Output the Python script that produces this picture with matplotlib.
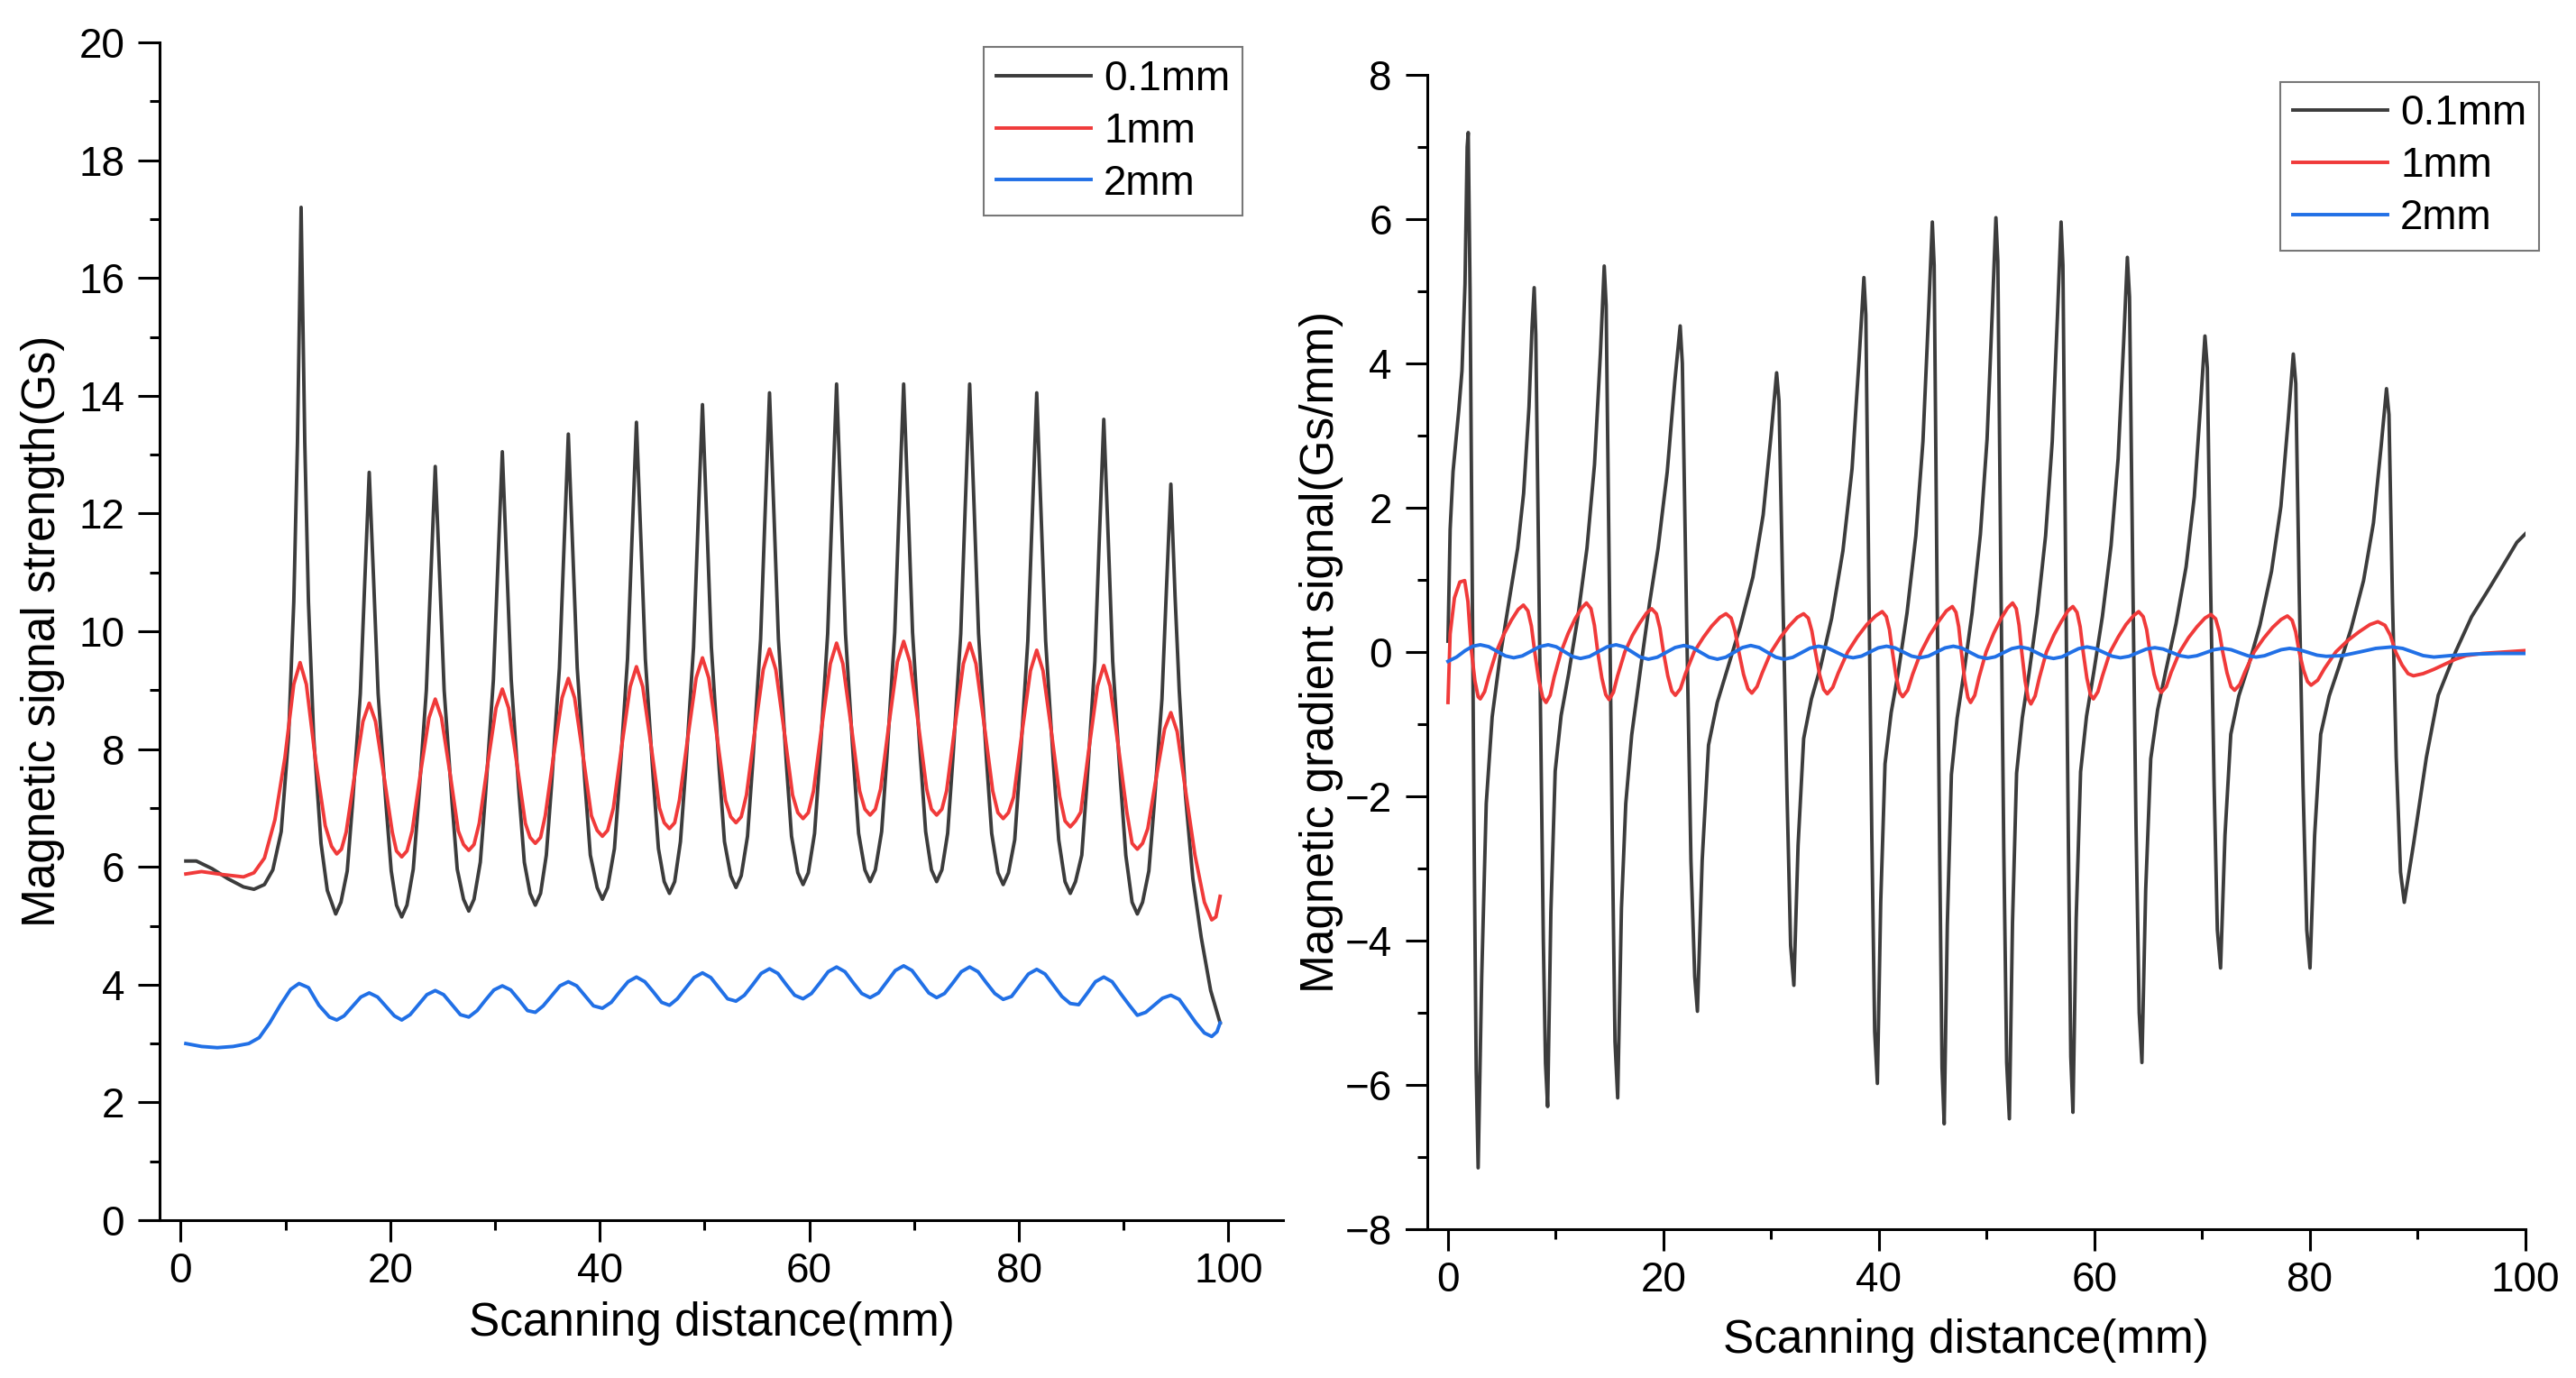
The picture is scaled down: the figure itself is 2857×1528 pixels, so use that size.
import matplotlib.pyplot as plt
from matplotlib.ticker import MultipleLocator

plt.rcParams['font.family'] = ['Liberation Sans', 'DejaVu Sans']

legend_labels = ['0.1mm', '1mm', '2mm']
line_colors = ['#3c3c3c', '#f03a3a', '#2170e6']

# left panel: magnetic signal strength (Gs)
strength_01mm = [
    (0.5, 6.1), (1.5, 6.1), (3.0, 5.97), (4.5, 5.8), (6.0, 5.66), (7.0, 5.62), (8.0, 5.7), (8.8, 5.95),
    (9.6, 6.6), (10.3, 8.2), (10.8, 10.5), (11.15, 13.2), (11.5, 17.2), (11.85, 13.2), (12.2, 10.5),
    (12.7, 8.2), (13.4, 6.4), (14.0, 5.6), (14.8, 5.2), (15.3, 5.4),
    (15.9, 5.93), (16.4, 7.06), (17.15, 8.94), (17.57, 10.82), (18.0, 12.7), (18.43, 10.82), (18.85, 8.94),
    (19.6, 7.06), (20.1, 5.93), (20.6, 5.35), (21.1, 5.15), (21.6, 5.35),
    (22.2, 5.96), (22.7, 7.1), (23.45, 9.0), (23.87, 10.9), (24.3, 12.8), (24.73, 10.9), (25.15, 9.0),
    (25.9, 7.1), (26.4, 5.96), (27.0, 5.45), (27.5, 5.25), (28.0, 5.45),
    (28.6, 6.08), (29.1, 7.24), (29.85, 9.18), (30.27, 11.11), (30.7, 13.05), (31.13, 11.11), (31.55, 9.18),
    (32.3, 7.24), (32.8, 6.08), (33.35, 5.55), (33.85, 5.35), (34.35, 5.55),
    (34.9, 6.2), (35.4, 7.39), (36.15, 9.38), (36.57, 11.36), (37.0, 13.35), (37.43, 11.36), (37.85, 9.38),
    (38.6, 7.39), (39.1, 6.2), (39.75, 5.65), (40.25, 5.45), (40.75, 5.65),
    (41.4, 6.31), (41.9, 7.51), (42.65, 9.53), (43.07, 11.54), (43.5, 13.55), (43.93, 11.54), (44.35, 9.53),
    (45.1, 7.51), (45.6, 6.31), (46.15, 5.75), (46.65, 5.55), (47.15, 5.75),
    (47.7, 6.43), (48.2, 7.66), (48.95, 9.73), (49.37, 11.79), (49.8, 13.85), (50.23, 11.79), (50.65, 9.73),
    (51.4, 7.66), (51.9, 6.43), (52.5, 5.85), (53.0, 5.65), (53.5, 5.85),
    (54.1, 6.52), (54.6, 7.77), (55.35, 9.87), (55.77, 11.96), (56.2, 14.05), (56.63, 11.96), (57.05, 9.87),
    (57.8, 7.77), (58.3, 6.52), (58.9, 5.9), (59.4, 5.7), (59.9, 5.9),
    (60.5, 6.57), (61.0, 7.84), (61.75, 9.96), (62.17, 12.08), (62.6, 14.2), (63.03, 12.08), (63.45, 9.96),
    (64.2, 7.84), (64.7, 6.57), (65.3, 5.95), (65.8, 5.75), (66.3, 5.95),
    (66.9, 6.6), (67.4, 7.86), (68.15, 9.98), (68.57, 12.09), (69.0, 14.2), (69.43, 12.09), (69.85, 9.98),
    (70.6, 7.86), (71.1, 6.6), (71.65, 5.95), (72.15, 5.75), (72.65, 5.95),
    (73.2, 6.57), (73.7, 7.84), (74.45, 9.96), (74.87, 12.08), (75.3, 14.2), (75.73, 12.08), (76.15, 9.96),
    (76.9, 7.84), (77.4, 6.57), (78.0, 5.9), (78.5, 5.7), (79.0, 5.9),
    (79.6, 6.46), (80.1, 7.73), (80.85, 9.84), (81.27, 11.94), (81.7, 14.05), (82.13, 11.94), (82.55, 9.84),
    (83.3, 7.73), (83.8, 6.46), (84.4, 5.75), (84.9, 5.55), (85.4, 5.75),
    (86.0, 6.2), (86.5, 7.44), (87.25, 9.49), (87.67, 11.55), (88.1, 13.6), (88.53, 11.55), (88.95, 9.49),
    (89.7, 7.44), (90.2, 6.2), (90.8, 5.4), (91.3, 5.2), (91.8, 5.4),
    (92.4, 5.93), (92.9, 7.03), (93.65, 8.85), (94.07, 10.68), (94.5, 12.5), (94.9, 10.6), (95.3, 9.0),
    (95.9, 7.2), (96.6, 5.8), (97.4, 4.8), (98.3, 3.9), (99.2, 3.35),
]

strength_1mm = [
    (0.5, 5.88), (2.0, 5.92), (4.0, 5.87), (6.0, 5.83), (7.0, 5.9), (8.0, 6.15), (9.0, 6.8), (9.95, 7.85),
    (10.8, 9.1), (11.4, 9.47), (12.0, 9.1), (12.85, 7.85), (13.8, 6.7), (14.4, 6.35), (14.9, 6.22), (15.35, 6.3),
    (15.8, 6.59), (16.55, 7.49), (17.4, 8.47), (18.0, 8.78), (18.6, 8.47), (19.45, 7.49), (20.2, 6.59),
    (20.6, 6.27), (21.1, 6.17), (21.6, 6.27),
    (22.1, 6.61), (22.85, 7.54), (23.7, 8.53), (24.3, 8.85), (24.9, 8.53), (25.75, 7.54), (26.5, 6.61),
    (27.0, 6.38), (27.5, 6.28), (28.0, 6.38),
    (28.5, 6.74), (29.25, 7.68), (30.1, 8.7), (30.7, 9.02), (31.3, 8.7), (32.15, 7.68), (32.9, 6.74),
    (33.35, 6.5), (33.85, 6.4), (34.35, 6.5),
    (34.8, 6.87), (35.55, 7.83), (36.4, 8.87), (37.0, 9.2), (37.6, 8.87), (38.45, 7.83), (39.2, 6.87),
    (39.75, 6.62), (40.25, 6.52), (40.75, 6.62),
    (41.3, 7.0), (42.05, 7.99), (42.9, 9.06), (43.5, 9.4), (44.1, 9.06), (44.95, 7.99), (45.7, 7.0),
    (46.15, 6.75), (46.65, 6.65), (47.15, 6.75),
    (47.6, 7.13), (48.35, 8.13), (49.2, 9.21), (49.8, 9.55), (50.4, 9.21), (51.25, 8.13), (52.0, 7.13),
    (52.5, 6.85), (53.0, 6.75), (53.5, 6.85),
    (54.0, 7.22), (54.75, 8.24), (55.6, 9.35), (56.2, 9.7), (56.8, 9.35), (57.65, 8.24), (58.4, 7.22),
    (58.9, 6.92), (59.4, 6.82), (59.9, 6.92),
    (60.4, 7.29), (61.15, 8.33), (62.0, 9.45), (62.6, 9.8), (63.2, 9.45), (64.05, 8.33), (64.8, 7.29),
    (65.3, 6.98), (65.8, 6.88), (66.3, 6.98),
    (66.8, 7.32), (67.55, 8.36), (68.4, 9.48), (69.0, 9.83), (69.6, 9.48), (70.45, 8.36), (71.2, 7.32),
    (71.65, 6.98), (72.15, 6.88), (72.65, 6.98),
    (73.1, 7.29), (73.85, 8.33), (74.7, 9.45), (75.3, 9.8), (75.9, 9.45), (76.75, 8.33), (77.5, 7.29),
    (78.0, 6.92), (78.5, 6.82), (79.0, 6.92),
    (79.5, 7.19), (80.25, 8.22), (81.1, 9.33), (81.7, 9.68), (82.3, 9.33), (83.15, 8.22), (83.9, 7.19),
    (84.4, 6.78), (84.9, 6.68), (85.4, 6.78),
    (85.9, 6.93), (86.65, 7.96), (87.5, 9.07), (88.1, 9.42), (88.7, 9.07), (89.55, 7.96), (90.3, 6.93),
    (90.8, 6.4), (91.3, 6.3), (91.8, 6.4),
    (92.3, 6.65), (93.05, 7.46), (93.9, 8.34), (94.5, 8.62), (95.1, 8.3), (95.9, 7.3), (96.8, 6.2),
    (97.7, 5.4), (98.4, 5.1), (98.8, 5.15), (99.2, 5.5),
]

strength_2mm = [
    (0.5, 3.0), (2.0, 2.95), (3.5, 2.93), (5.0, 2.95), (6.5, 3.0), (7.5, 3.1), (8.5, 3.35), (9.5, 3.65),
    (10.5, 3.92), (11.3, 4.02), (12.2, 3.95), (13.2, 3.65), (14.2, 3.45), (14.9, 3.4),
    (15.6, 3.47), (16.4, 3.63), (17.2, 3.79), (18.0, 3.86), (18.8, 3.79), (19.6, 3.63), (20.4, 3.47), (21.1, 3.4),
    (21.9, 3.49), (22.7, 3.66), (23.5, 3.83), (24.3, 3.9), (25.1, 3.83), (25.9, 3.66), (26.7, 3.49), (27.5, 3.45),
    (28.3, 3.56), (29.1, 3.74), (29.9, 3.91), (30.7, 3.98), (31.5, 3.91), (32.3, 3.74), (33.1, 3.56), (33.85, 3.53),
    (34.6, 3.64), (35.4, 3.81), (36.2, 3.98), (37.0, 4.05), (37.8, 3.98), (38.6, 3.81), (39.4, 3.64), (40.25, 3.6),
    (41.1, 3.7), (41.9, 3.88), (42.7, 4.05), (43.5, 4.13), (44.3, 4.05), (45.1, 3.88), (45.9, 3.7), (46.65, 3.65),
    (47.4, 3.76), (48.2, 3.94), (49.0, 4.12), (49.8, 4.2), (50.6, 4.12), (51.4, 3.94), (52.2, 3.76), (53.0, 3.72),
    (53.8, 3.82), (54.6, 4.0), (55.4, 4.19), (56.2, 4.27), (57.0, 4.19), (57.8, 4.0), (58.6, 3.82), (59.4, 3.76),
    (60.2, 3.85), (61.0, 4.03), (61.8, 4.22), (62.6, 4.3), (63.4, 4.22), (64.2, 4.03), (65.0, 3.85), (65.8, 3.78),
    (66.6, 3.86), (67.4, 4.05), (68.2, 4.24), (69.0, 4.32), (69.8, 4.24), (70.6, 4.05), (71.4, 3.86), (72.15, 3.78),
    (72.9, 3.85), (73.7, 4.03), (74.5, 4.22), (75.3, 4.3), (76.1, 4.22), (76.9, 4.03), (77.7, 3.85), (78.5, 3.75),
    (79.3, 3.8), (80.1, 3.99), (80.9, 4.18), (81.7, 4.26), (82.5, 4.18), (83.3, 3.99), (84.1, 3.8), (84.9, 3.68),
    (85.7, 3.66), (86.5, 3.85), (87.3, 4.05), (88.1, 4.13), (88.9, 4.05), (89.7, 3.85), (90.5, 3.66), (91.3, 3.48),
    (92.1, 3.53), (92.9, 3.65), (93.7, 3.77), (94.5, 3.82), (95.3, 3.75), (96.1, 3.55), (96.9, 3.35),
    (97.7, 3.18), (98.4, 3.12), (98.9, 3.2), (99.2, 3.35),
]

# right panel: magnetic gradient signal (Gs/mm)
gradient_01mm = [
    (0.0, 0.15), (0.2, 1.7), (0.47, 2.5), (1.0, 3.35), (1.3, 3.9), (1.58, 5.1), (1.78, 7.0), (1.88, 7.2),
    (2.05, 5.0), (2.25, 1.0), (2.45, -3.0), (2.62, -5.8), (2.8, -7.15),
    (3.13, -4.5), (3.55, -2.1), (4.1, -0.9), (4.8, -0.1), (5.63, 0.67), (6.47, 1.44), (7.02, 2.2), (7.52, 3.4),
    (7.8, 4.5), (8.0, 5.05), (8.15, 4.4), (8.35, 2.0), (8.6, -1.0), (8.85, -4.0), (9.05, -5.7), (9.25, -6.3),
    (9.55, -3.6), (9.95, -1.65), (10.5, -0.88), (11.2, -0.3), (12.05, 0.48), (12.9, 1.44), (13.6, 2.6),
    (14.15, 4.15), (14.5, 5.35), (14.68, 4.8), (14.95, 1.25), (15.25, -2.6), (15.5, -5.4), (15.75, -6.18),
    (16.1, -3.55), (16.5, -2.1), (17.05, -1.15), (17.9, -0.2), (18.7, 0.67), (19.5, 1.44), (20.35, 2.5),
    (21.05, 3.75), (21.55, 4.52), (21.75, 4.0), (22.15, 0.4), (22.55, -2.9), (22.9, -4.5), (23.15, -4.98),
    (23.59, -2.89), (24.18, -1.29), (24.99, -0.7), (25.94, -0.23), (27.12, 0.35), (28.3, 1.04), (29.25, 1.9),
    (29.99, 3.02), (30.5, 3.87), (30.72, 3.48), (31.08, 0.77), (31.46, -1.94), (31.8, -4.07), (32.1, -4.62),
    (32.49, -2.68), (33.01, -1.2), (33.73, -0.65), (34.57, -0.21), (35.61, 0.47), (36.65, 1.4), (37.5, 2.54),
    (38.15, 4.05), (38.6, 5.19), (38.78, 4.67), (39.05, 1.04), (39.33, -2.51), (39.6, -5.26), (39.85, -5.98),
    (40.16, -3.47), (40.56, -1.55), (41.13, -0.84), (41.79, -0.28), (42.6, 0.54), (43.42, 1.61), (44.08, 2.92),
    (44.59, 4.65), (44.95, 5.96), (45.12, 5.36), (45.37, 1.19), (45.63, -2.75), (45.85, -5.76), (46.05, -6.54),
    (46.34, -3.79), (46.72, -1.7), (47.25, -0.92), (47.87, -0.3), (48.64, 0.54), (49.41, 1.63), (50.03, 2.95),
    (50.51, 4.7), (50.85, 6.02), (51.03, 5.42), (51.3, 1.2), (51.58, -2.72), (51.85, -5.69), (52.1, -6.47),
    (52.39, -3.75), (52.77, -1.68), (53.3, -0.91), (53.92, -0.3), (54.69, 0.54), (55.46, 1.61), (56.08, 2.92),
    (56.56, 4.65), (56.9, 5.96), (57.07, 5.36), (57.32, 1.19), (57.58, -2.68), (57.8, -5.61), (58.0, -6.38),
    (58.3, -3.7), (58.71, -1.66), (59.26, -0.89), (59.92, -0.29), (60.73, 0.49), (61.54, 1.48), (62.19, 2.68),
    (62.7, 4.27), (63.05, 5.47), (63.25, 4.92), (63.55, 1.09), (63.85, -2.39), (64.15, -5.0), (64.4, -5.69),
    (64.75, -3.3), (65.22, -1.48), (65.86, -0.8), (66.62, -0.26), (67.56, 0.39), (68.5, 1.18), (69.26, 2.15),
    (69.84, 3.42), (70.25, 4.38), (70.47, 3.94), (70.78, 0.88), (71.1, -1.84), (71.4, -3.85), (71.7, -4.38),
    (72.11, -2.54), (72.65, -1.14), (73.39, -0.61), (74.27, -0.2), (75.35, 0.37), (76.43, 1.12), (77.3, 2.02),
    (77.98, 3.22), (78.45, 4.13), (78.68, 3.72), (79.0, 0.83), (79.35, -1.84), (79.7, -3.85), (80.0, -4.38),
    (80.43, -2.54), (80.99, -1.14), (81.78, -0.61), (82.7, -0.2), (83.83, 0.33), (84.97, 0.99), (85.89, 1.79),
    (86.6, 2.85), (87.1, 3.65), (87.33, 3.29), (87.65, 0.73), (88.0, -1.46), (88.4, -3.05), (88.75, -3.47),
    (89.6, -2.67), (90.8, -1.46), (91.9, -0.6), (93.5, 0.0), (95.0, 0.49), (96.5, 0.85), (98.0, 1.22),
    (99.2, 1.52), (100.0, 1.64),
]

gradient_1mm = [
    (0.0, -0.7), (0.2, 0.25), (0.6, 0.75), (1.1, 0.97), (1.55, 0.99), (1.85, 0.7), (2.15, 0.05), (2.5, -0.4),
    (2.8, -0.62), (3.0, -0.65),
    (3.4, -0.55), (3.8, -0.33), (4.48, 0.0), (5.2, 0.25), (5.88, 0.44), (6.52, 0.59), (7.0, 0.65), (7.42, 0.57),
    (7.74, 0.36), (8.05, 0.0), (8.43, -0.39), (8.79, -0.63), (9.1, -0.7),
    (9.48, -0.6), (9.85, -0.35), (10.49, 0.0), (11.16, 0.26), (11.8, 0.46), (12.4, 0.61), (12.85, 0.68),
    (13.27, 0.6), (13.59, 0.37), (13.9, 0.0), (14.28, -0.36), (14.64, -0.59), (14.95, -0.66),
    (15.35, -0.56), (15.74, -0.33), (16.41, 0.0), (17.12, 0.23), (17.79, 0.4), (18.43, 0.54), (18.9, 0.6),
    (19.34, 0.53), (19.67, 0.33), (20.0, 0.0), (20.4, -0.33), (20.77, -0.54), (21.1, -0.6),
    (21.57, -0.51), (22.04, -0.3), (22.84, 0.0), (23.69, 0.2), (24.48, 0.36), (25.24, 0.48), (25.8, 0.53),
    (26.28, 0.47), (26.64, 0.29), (27.0, 0.0), (27.43, -0.31), (27.84, -0.51), (28.2, -0.57),
    (28.68, -0.48), (29.16, -0.29), (29.98, 0.0), (30.84, 0.2), (31.66, 0.36), (32.42, 0.48), (33.0, 0.53),
    (33.44, 0.47), (33.77, 0.29), (34.1, 0.0), (34.5, -0.32), (34.87, -0.52), (35.2, -0.58),
    (35.71, -0.49), (36.22, -0.29), (37.09, 0.0), (38.0, 0.21), (38.87, 0.38), (39.69, 0.5), (40.3, 0.56),
    (40.68, 0.49), (40.97, 0.31), (41.25, 0.0), (41.59, -0.34), (41.92, -0.56), (42.2, -0.62),
    (42.66, -0.53), (43.12, -0.31), (43.9, 0.0), (44.73, 0.24), (45.51, 0.42), (46.25, 0.57), (46.8, 0.63),
    (47.14, 0.55), (47.4, 0.35), (47.65, 0.0), (47.96, -0.39), (48.25, -0.63), (48.5, -0.7),
    (48.89, -0.6), (49.28, -0.35), (49.94, 0.0), (50.65, 0.26), (51.31, 0.46), (51.93, 0.61), (52.4, 0.68),
    (52.74, 0.6), (53.0, 0.37), (53.25, 0.0), (53.56, -0.4), (53.85, -0.65), (54.1, -0.72),
    (54.49, -0.61), (54.88, -0.36), (55.54, 0.0), (56.25, 0.24), (56.91, 0.42), (57.53, 0.57), (58.0, 0.63),
    (58.38, 0.55), (58.67, 0.35), (58.95, 0.0), (59.29, -0.36), (59.62, -0.59), (59.9, -0.65),
    (60.32, -0.55), (60.74, -0.33), (61.45, 0.0), (62.21, 0.21), (62.92, 0.38), (63.6, 0.5), (64.1, 0.56),
    (64.52, 0.49), (64.84, 0.31), (65.15, 0.0), (65.53, -0.31), (65.89, -0.5), (66.2, -0.56),
    (66.66, -0.48), (67.12, -0.28), (67.9, 0.0), (68.73, 0.2), (69.51, 0.35), (70.25, 0.47), (70.8, 0.52),
    (71.24, 0.46), (71.57, 0.29), (71.9, 0.0), (72.3, -0.29), (72.67, -0.48), (73.0, -0.53),
    (73.49, -0.45), (73.98, -0.27), (74.81, 0.0), (75.7, 0.19), (76.53, 0.34), (77.31, 0.45), (77.9, 0.5),
    (78.34, 0.44), (78.67, 0.28), (79.0, 0.0), (79.4, -0.25), (79.77, -0.41), (80.1, -0.46),
    (80.72, -0.39), (81.34, -0.23), (82.39, 0.0), (83.51, 0.16), (84.56, 0.28), (85.56, 0.38), (86.3, 0.42),
    (86.96, 0.37), (87.46, 0.23), (87.95, 0.0), (88.54, -0.18), (89.1, -0.3), (89.6, -0.33),
    (90.5, -0.3), (91.5, -0.24), (92.5, -0.17), (93.5, -0.1), (94.5, -0.05), (96.0, -0.02), (98.0, 0.0),
    (100.0, 0.02),
]

gradient_2mm = [
    (0.0, -0.13), (0.8, -0.07), (1.6, 0.02), (2.3, 0.08), (3.0, 0.1),
    (3.78, 0.074), (4.55, 0.01), (5.33, -0.054), (6.1, -0.08),
    (6.9, -0.054), (7.7, 0.01), (8.5, 0.074), (9.3, 0.1),
    (10.05, 0.072), (10.8, 0.005), (11.55, -0.062), (12.3, -0.09),
    (13.13, -0.062), (13.95, 0.005), (14.78, 0.072), (15.6, 0.1),
    (16.35, 0.071), (17.1, 0.0), (17.85, -0.071), (18.6, -0.1),
    (19.43, -0.072), (20.25, -0.005), (21.08, 0.062), (21.9, 0.09),
    (22.68, 0.062), (23.45, -0.005), (24.23, -0.072), (25.0, -0.1),
    (25.78, -0.072), (26.55, -0.005), (27.33, 0.062), (28.1, 0.09),
    (28.88, 0.062), (29.65, -0.005), (30.43, -0.072), (31.2, -0.1),
    (32.0, -0.074), (32.8, -0.01), (33.6, 0.054), (34.4, 0.08),
    (35.2, 0.057), (36.0, 0.0), (36.8, -0.057), (37.6, -0.08),
    (38.38, -0.057), (39.15, 0.0), (39.93, 0.057), (40.7, 0.08),
    (41.48, 0.057), (42.25, 0.0), (43.03, -0.057), (43.8, -0.08),
    (44.58, -0.057), (45.35, 0.0), (46.13, 0.057), (46.9, 0.08),
    (47.68, 0.055), (48.45, -0.005), (49.23, -0.065), (50.0, -0.09),
    (50.78, -0.067), (51.55, -0.01), (52.33, 0.047), (53.1, 0.07),
    (53.88, 0.047), (54.65, -0.01), (55.43, -0.067), (56.2, -0.09),
    (56.98, -0.067), (57.75, -0.01), (58.53, 0.047), (59.3, 0.07),
    (60.08, 0.048), (60.85, -0.005), (61.63, -0.058), (62.4, -0.08),
    (63.2, -0.06), (64.0, -0.01), (64.8, 0.04), (65.6, 0.06),
    (66.38, 0.041), (67.15, -0.005), (67.93, -0.051), (68.7, -0.07),
    (69.5, -0.052), (70.3, -0.01), (71.1, 0.032), (71.9, 0.05),
    (72.68, 0.032), (73.45, -0.01), (74.23, -0.052), (75.0, -0.07),
    (75.78, -0.052), (76.55, -0.01), (77.33, 0.032), (78.1, 0.05),
    (78.95, 0.034), (79.8, -0.005), (80.65, -0.044), (81.5, -0.06),
    (83.0, -0.05), (84.6, 0.0), (86.1, 0.05), (87.6, 0.07),
    (88.6, 0.05), (89.55, 0.0), (90.5, -0.05), (91.5, -0.07),
    (93.0, -0.05), (95.0, -0.03), (97.5, -0.02), (100.0, -0.02),
]

left_series = [strength_01mm, strength_1mm, strength_2mm]
right_series = [gradient_01mm, gradient_1mm, gradient_2mm]


def style_axes(ax, xlim, ylim, spine_x, ymajor, xlabel, ylabel, ylabel_x, xlabel_y):
    ax.set_xlim(*xlim)
    ax.set_ylim(*ylim)
    ax.spines['top'].set_visible(False)
    ax.spines['right'].set_visible(False)
    ax.spines['left'].set_position(('data', spine_x))
    for s in ('left', 'bottom'):
        ax.spines[s].set_linewidth(2.2)
    ax.set_xticks([0, 20, 40, 60, 80, 100])
    ax.xaxis.set_minor_locator(MultipleLocator(10))
    ax.yaxis.set_major_locator(MultipleLocator(ymajor))
    ax.yaxis.set_minor_locator(MultipleLocator(ymajor / 2))
    ax.tick_params(which='major', direction='out', length=17, width=2.2, labelsize=33)
    ax.tick_params(which='minor', direction='out', length=8, width=2.2)
    ax.tick_params(axis='x', which='major', pad=8)
    ax.tick_params(axis='y', which='major', pad=11)
    ax.set_xlabel(xlabel, fontsize=37)
    ax.set_ylabel(ylabel, fontsize=37)
    ax.yaxis.set_label_coords(ylabel_x, 0.5)
    ax.xaxis.set_label_coords(0.5, xlabel_y)


fig = plt.figure(figsize=(28.57, 15.28), dpi=100)
ax1 = fig.add_axes([0.05425, 0.1145, 0.4438, 0.8547])
ax2 = fig.add_axes([0.5460, 0.1080, 0.4344, 0.8377])

for pts, color, label in zip(left_series, line_colors, legend_labels):
    xs, ys = zip(*pts)
    ax1.plot(xs, ys, color=color, lw=2.8, label=label)

for pts, color, label in zip(right_series, line_colors, legend_labels):
    xs, ys = zip(*pts)
    ax2.plot(xs, ys, color=color, lw=2.8, label=label)

style_axes(ax1, (-3.9, 105.2), (0, 20), -2.0, 2,
           'Scanning distance(mm)', 'Magnetic signal strength(Gs)', -0.0655, -0.069)
style_axes(ax2, (-3.85, 100), (-8, 8), -1.93, 2,
           'Scanning distance(mm)', 'Magnetic gradient signal(Gs/mm)', -0.0564, -0.077)

leg_kw = dict(loc='upper right', borderaxespad=0, fontsize=33, fancybox=False,
              handlelength=2.3, handletextpad=0.3, labelspacing=0.3, borderpad=0.3)
leg1 = ax1.legend(bbox_to_anchor=(0.9645, 0.996), **leg_kw)
leg2 = ax2.legend(bbox_to_anchor=(1.012, 0.994), **leg_kw)
for leg in (leg1, leg2):
    leg.get_frame().set_edgecolor('#555555')
    leg.get_frame().set_linewidth(1.5)

fig.savefig('out.png', dpi=100)
